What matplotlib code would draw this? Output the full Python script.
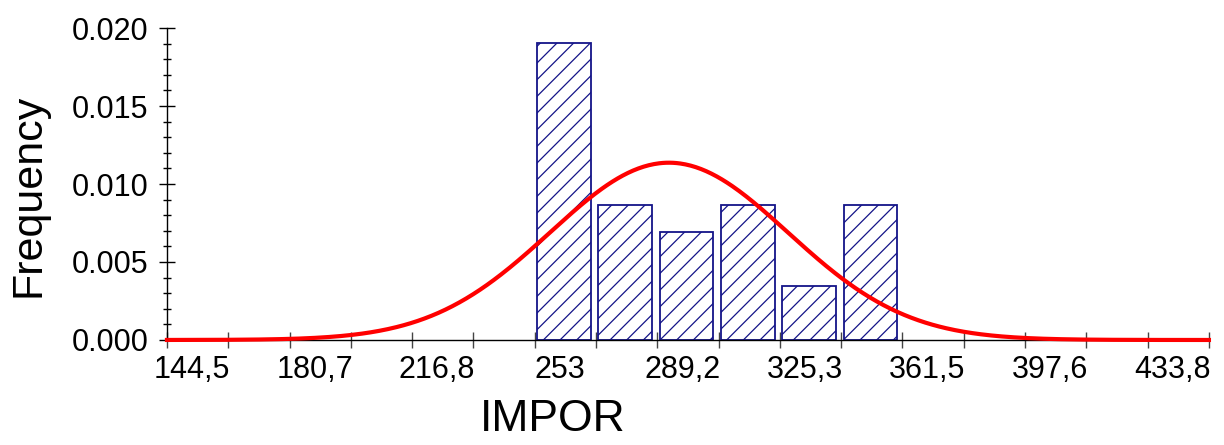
import numpy as np
import matplotlib.pyplot as plt
from matplotlib.ticker import MultipleLocator, FixedLocator, FuncFormatter
from matplotlib.transforms import ScaledTranslation

# histogram of IMPOR (density), 32 observations
bin_left = [253.0, 271.08, 289.17, 307.25, 325.33, 343.42]
density = [0.01902, 0.00864, 0.00691, 0.00864, 0.00346, 0.00864]
bin_width = 18.083

# fitted normal curve
fit_mean = 292.6
fit_sd = 35.1

tick_values = [144.5, 180.7, 216.8, 253, 289.2, 325.3, 361.5, 397.6, 433.8]

plt.rcParams['font.family'] = ['Liberation Sans', 'DejaVu Sans']
plt.rcParams['hatch.linewidth'] = 0.9

fig = plt.figure(figsize=(12.24, 4.45), dpi=100)
ax = fig.add_axes([0.1364, 0.236, 0.8513, 0.701])

navy = '#141488'
ax.bar(np.array(bin_left) + 0.04 * bin_width, density, width=0.875 * bin_width,
       align='edge', facecolor='white', edgecolor=navy, hatch='//', linewidth=1.3, zorder=2)

x0 = tick_values[0]
x1 = x0 + 17 * bin_width
xs = np.linspace(x0, x1, 600)
pdf = np.exp(-0.5 * ((xs - fit_mean) / fit_sd) ** 2) / (fit_sd * np.sqrt(2 * np.pi))
ax.plot(xs, pdf, color='red', linewidth=3.0, zorder=3, clip_on=False)

ax.set_xlim(x0, x1)
ax.set_ylim(0, 0.020)

for s in ['top', 'right']:
    ax.spines[s].set_visible(False)
for s in ['left', 'bottom']:
    ax.spines[s].set_linewidth(1.0)

ax.xaxis.set_major_locator(FixedLocator(tick_values))
ax.xaxis.set_minor_locator(FixedLocator([x0 + (2 * k + 1) * bin_width for k in range(9)]))
ax.xaxis.set_major_formatter(FuncFormatter(lambda v, p: ('%g' % round(v, 1)).replace('.', ',')))
ax.yaxis.set_major_locator(MultipleLocator(0.005))
ax.yaxis.set_minor_locator(MultipleLocator(0.001))
ax.yaxis.set_major_formatter(FuncFormatter(lambda v, p: '%.3f' % v))

ax.tick_params(axis='x', which='both', direction='inout', length=11.5, width=1.0,
               color='#444444', labelsize=22, pad=5)
ax.tick_params(axis='y', which='major', direction='inout', length=11, width=1.0,
               labelsize=22, pad=8)
ax.tick_params(axis='y', which='minor', direction='inout', length=6, width=1.0)

for lab in ax.get_xticklabels():
    lab.set_transform(lab.get_transform() + ScaledTranslation(0.25, 0, fig.dpi_scale_trans))

fig.text(553 / 1224, 0.012, 'IMPOR', fontsize=32, ha='center', va='bottom')
fig.text(29 / 1224, 1 - 195 / 445, 'Frequency', fontsize=31, rotation=90,
         ha='center', va='center')

fig.savefig('out.png', dpi=100)
